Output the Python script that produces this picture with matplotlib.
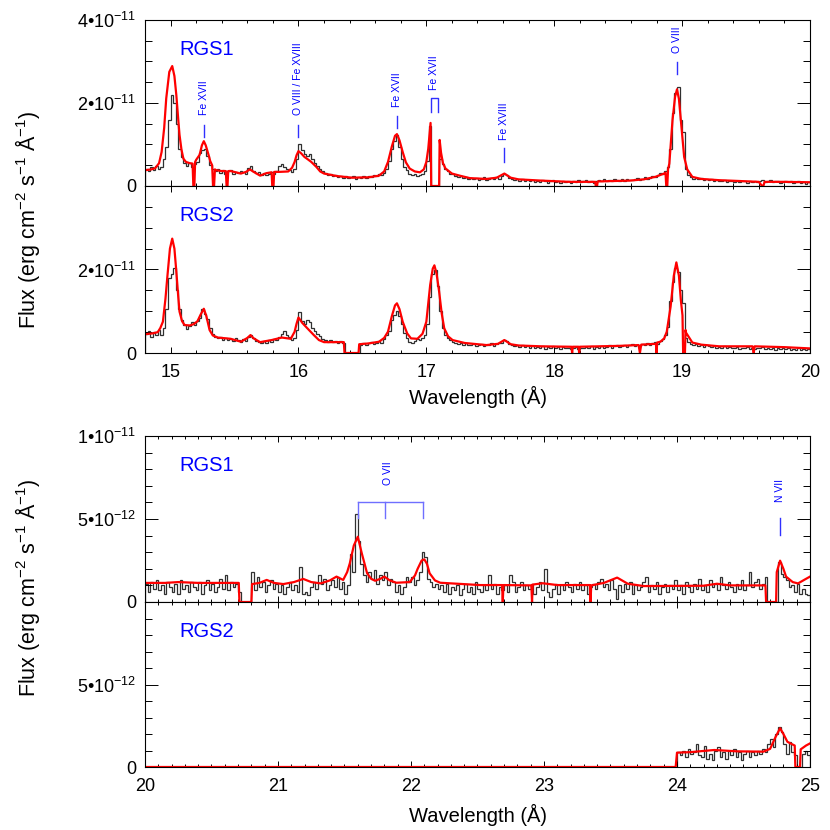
import numpy as np
import matplotlib
matplotlib.use('Agg')
import matplotlib.pyplot as plt

plt.rcParams['font.family'] = ['Liberation Sans', 'DejaVu Sans']
plt.rcParams['mathtext.fontset'] = 'custom'
plt.rcParams['mathtext.rm'] = 'Liberation Sans'
plt.rcParams['mathtext.it'] = 'Liberation Sans:italic'
plt.rcParams['mathtext.bf'] = 'Liberation Sans:bold'

UNIT = 1e-12  # all flux values below are in units of 1e-12 erg/cm2/s/A

# ---------------- Top group: 14.8 - 20.0 A, 0.02 A bins ----------------
top_start = 14.80
top_bin = 0.02
rgs1_top_data = [
    4.2, 3.6, 4.5, 3.9, 4.8, 4.1, 4.6, 6.5, 9.5, 16.0,
    22.0, 20.0, 15.0, 9.0, 7.0, 5.5, 4.8, 5.5, 4.6, 5.2,
    5.8, 7.9, 8.6, 8.9, 7.2, 5.0, 4.2, 3.6, 4.0, 3.2,
    3.8, 3.0, 3.5, 3.9, 2.9, 3.4, 3.1, 3.7, 3.3, 2.8,
    4.4, 4.9, 3.6, 3.1, 3.4, 2.7, 3.2, 2.6, 3.0, 3.3,
    2.9, 3.6, 4.8, 5.3, 4.5, 4.0, 3.8, 3.4, 4.2, 6.5,
    10.0, 8.6, 7.8, 7.2, 7.6, 6.4, 5.6, 4.8, 4.0, 3.6,
    3.1, 2.7, 2.9, 2.4, 2.6, 2.2, 2.5, 2.0, 2.3, 1.9,
    2.1, 2.4, 1.8, 2.2, 2.0, 2.5, 1.9, 2.3, 2.1, 2.6,
    2.4, 2.8, 2.6, 3.2, 4.2, 6.0, 9.0, 10.8, 12.3, 9.5,
    6.5, 4.6, 3.8, 3.0, 2.6, 2.8, 2.4, 2.7, 2.9, 3.6,
    6.0, 14.5, 0.0, 0.0, 0.0, 6.5, 5.2, 4.2, 3.6, 3.0,
    2.8, 2.5, 2.1, 2.3, 1.9, 2.2, 1.7, 2.0, 1.6, 1.9,
    1.5, 1.8, 2.1, 1.4, 1.7, 1.9, 1.6, 2.2, 1.8, 2.3,
    3.0, 2.6, 2.0, 1.7, 1.4, 1.8, 1.2, 1.6, 1.3, 1.5,
    1.1, 1.4, 0.9, 1.3, 1.0, 1.5, 1.2, 0.8, 1.1, 1.4,
    1.0, 1.2, 0.7, 1.3, 0.9, 1.1, 0.8, 1.2, 1.0, 1.4,
    0.9, 1.2, 1.5, 1.0, 1.3, 0.8, 1.1, 1.4, 1.2, 1.6,
    1.3, 1.5, 1.1, 1.7, 1.4, 1.2, 1.6, 1.3, 1.8, 1.5,
    1.4, 1.7, 1.9, 1.5, 1.8, 2.1, 1.7, 2.0, 2.4, 2.2,
    2.6, 3.1, 2.9, 3.5, 4.5, 9.0, 17.5, 22.5, 23.8, 16.0,
    13.0, 4.0, 2.6, 2.2, 1.8, 2.0, 1.6, 1.9, 1.5, 1.7,
    1.4, 1.6, 1.2, 1.5, 1.3, 1.1, 1.4, 1.0, 1.3, 1.2,
    1.0, 1.3, 0.9, 1.2, 1.1, 0.8, 1.2, 1.0, 1.3, 0.9,
    1.1, 1.4, 1.0, 1.2, 1.5, 0.9, 1.1, 1.3, 0.8, 1.0,
    1.2, 0.9, 1.1, 0.7, 1.0, 1.3, 0.8, 1.0, 0.6, 0.9,
]
rgs2_top_data = [
    4.6, 5.3, 3.9, 5.0, 4.4, 5.6, 4.2, 6.0, 10.5, 18.0,
    19.0, 20.3, 15.0, 10.5, 7.8, 6.6, 5.8, 6.4, 7.4, 6.8,
    7.6, 8.5, 10.6, 9.4, 8.2, 6.0, 4.6, 3.9, 3.5, 3.8,
    3.2, 3.6, 3.0, 3.4, 2.9, 3.7, 3.1, 2.7, 3.3, 2.8,
    3.9, 4.4, 3.5, 2.9, 2.6, 2.3, 2.8, 2.5, 3.0, 2.7,
    3.4, 3.1, 3.9, 4.6, 5.2, 4.3, 3.8, 3.2, 3.6, 5.5,
    9.8, 7.6, 7.0, 7.8, 7.4, 6.0, 5.2, 4.6, 4.0, 3.4,
    3.0, 2.7, 3.2, 2.6, 2.9, 2.4, 2.8, 2.5, 0.0, 0.0,
    0.0, 0.0, 0.0, 0.0, 2.0, 2.4, 1.9, 2.3, 2.6, 2.2,
    2.5, 2.9, 2.4, 3.3, 4.4, 5.2, 7.8, 9.2, 10.0, 8.8,
    7.0, 4.8, 3.6, 2.6, 2.4, 2.9, 3.3, 3.0, 3.6, 4.4,
    7.0, 13.5, 19.0, 19.8, 16.0, 10.0, 6.0, 4.2, 3.5, 3.0,
    2.7, 2.4, 2.1, 2.5, 1.9, 2.3, 2.0, 1.8, 2.2, 1.7,
    1.9, 2.2, 1.6, 2.0, 1.8, 2.4, 1.7, 2.1, 2.5, 2.3,
    3.2, 2.8, 2.2, 1.9, 1.6, 2.0, 1.5, 1.8, 1.4, 1.7,
    1.3, 1.6, 1.1, 1.5, 1.2, 1.7, 1.0, 1.4, 1.2, 1.6,
    1.2, 1.5, 1.0, 1.4, 1.1, 1.3, 0.9, 1.2, 1.4, 1.0,
    1.3, 1.1, 1.5, 1.2, 1.6, 1.0, 1.4, 1.3, 1.7, 1.2,
    1.5, 1.8, 1.3, 1.6, 1.9, 1.4, 1.7, 2.0, 1.5, 1.8,
    2.1, 1.7, 2.0, 1.6, 2.2, 1.9, 2.4, 2.0, 2.3, 2.6,
    2.2, 2.8, 3.3, 4.2, 6.3, 12.5, 17.0, 20.4, 19.5, 15.0,
    12.0, 3.6, 2.6, 2.2, 1.9, 2.1, 1.7, 1.9, 1.5, 1.8,
    1.6, 1.4, 1.7, 1.3, 1.5, 1.2, 1.6, 1.1, 1.4, 1.3,
    1.2, 1.5, 1.0, 1.3, 1.1, 1.4, 0.9, 1.2, 1.0, 1.3,
    1.1, 1.4, 0.9, 1.2, 1.0, 1.3, 0.8, 1.1, 1.0, 1.2,
    0.9, 1.1, 0.7, 1.0, 0.8, 1.2, 0.6, 0.9, 0.7, 1.0,
]

rgs1_top_model_wl = [
    14.80, 14.85, 14.88, 14.91, 14.93, 14.95, 14.966, 14.99, 15.013, 15.03,
    15.045, 15.06, 15.07, 15.085, 15.10, 15.12, 15.15, 15.172, 15.178, 15.186,
    15.192, 15.20, 15.227, 15.245, 15.26, 15.275, 15.297, 15.31, 15.325, 15.332,
    15.340, 15.347, 15.357, 15.40, 15.432, 15.438, 15.445, 15.451, 15.47, 15.55,
    15.59, 15.62, 15.65, 15.70, 15.75, 15.79, 15.795, 15.805, 15.81, 15.85,
    15.92, 15.95, 15.97, 15.985, 16.00, 16.02, 16.047, 16.07, 16.10, 16.14,
    16.17, 16.20, 16.30, 16.42, 16.55, 16.63, 16.67, 16.70, 16.73, 16.755,
    16.77, 16.79, 16.815, 16.84, 16.87, 16.91, 16.95, 16.98, 17.00, 17.015,
    17.033, 17.038, 17.100, 17.104, 17.115, 17.13, 17.15, 17.20, 17.26, 17.34,
    17.47, 17.55, 17.61, 17.66, 17.72, 17.90, 18.12, 18.32, 18.325, 18.335,
    18.34, 18.59, 18.70, 18.79, 18.86, 18.870, 18.876, 18.884, 18.890, 18.90,
    18.925, 18.945, 18.96, 18.975, 18.99, 19.016, 19.04, 19.08, 19.15, 19.29,
    19.45, 19.60, 19.625, 19.635, 19.645, 19.80, 20.00,
]
rgs1_top_model = [
    3.8, 4.0, 4.3, 5.5, 8.2, 14.0, 21.1, 27.5, 28.9, 26.5,
    21.9, 16.0, 12.3, 8.8, 6.6, 5.8, 5.5, 5.4, 0.0, 0.0,
    5.8, 6.3, 7.5, 9.8, 10.8, 9.8, 7.5, 6.0, 5.0, 0.0,
    0.0, 4.0, 3.8, 3.6, 3.6, 0.0, 0.0, 3.6, 3.6, 3.0,
    3.4, 4.0, 3.4, 2.5, 3.1, 3.3, 0.0, 0.0, 3.4, 3.4,
    3.5, 4.4, 5.8, 7.4, 8.4, 7.9, 7.0, 6.5, 5.8, 4.6,
    3.5, 3.0, 2.4, 2.0, 2.1, 2.5, 3.5, 5.8, 9.5, 12.1,
    12.5, 11.0, 8.2, 5.7, 4.2, 3.5, 3.3, 4.0, 5.8, 9.0,
    15.2, 0.0, 0.0, 11.1, 8.0, 5.5, 4.2, 3.0, 2.5, 1.9,
    1.7, 2.0, 3.0, 2.0, 1.6, 1.3, 1.0, 1.0, 0.0, 0.0,
    1.1, 1.3, 1.6, 2.2, 3.0, 3.2, 0.0, 0.0, 4.0, 5.4,
    15.9, 21.5, 23.3, 21.0, 15.9, 7.0, 4.0, 2.2, 1.7, 1.4,
    1.2, 1.0, 0.0, 0.0, 1.0, 1.0, 0.9,
]

rgs2_top_model_wl = [
    14.80, 14.86, 14.90, 14.92, 14.94, 14.96, 14.974, 14.995, 15.013, 15.03,
    15.045, 15.06, 15.07, 15.09, 15.11, 15.15, 15.18, 15.21, 15.235, 15.26,
    15.28, 15.305, 15.33, 15.37, 15.47, 15.55, 15.60, 15.625, 15.65, 15.70,
    15.79, 15.87, 15.94, 15.97, 15.985, 16.00, 16.03, 16.07, 16.12, 16.16,
    16.20, 16.27, 16.355, 16.360, 16.470, 16.475, 16.55, 16.63, 16.67, 16.70,
    16.73, 16.755, 16.77, 16.79, 16.815, 16.85, 16.88, 16.93, 16.97, 17.00,
    17.03, 17.05, 17.063, 17.08, 17.10, 17.12, 17.14, 17.17, 17.205, 17.30,
    17.47, 17.56, 17.61, 17.66, 17.72, 17.90, 18.12, 18.135, 18.14, 18.145,
    18.19, 18.195, 18.20, 18.50, 18.66, 18.67, 18.68, 18.795, 18.80, 18.805,
    18.83, 18.86, 18.88, 18.91, 18.935, 18.955, 18.975, 18.99, 19.003, 19.008,
    19.022, 19.027, 19.03, 19.08, 19.15, 19.29, 19.55, 19.56, 19.567, 19.80,
    20.00,
]
rgs2_top_model = [
    4.5, 4.7, 5.0, 6.0, 7.5, 13.0, 18.0, 25.0, 27.4, 25.0,
    19.5, 13.5, 9.9, 7.6, 6.7, 6.6, 6.9, 7.6, 9.2, 10.6,
    8.8, 5.5, 4.2, 3.7, 3.4, 2.7, 3.6, 4.3, 3.5, 2.6,
    3.1, 3.7, 3.4, 5.1, 7.0, 8.5, 7.2, 5.9, 4.3, 3.1,
    2.6, 2.6, 2.6, 0.0, 0.0, 2.1, 2.3, 2.7, 3.6, 5.1,
    8.8, 11.4, 11.9, 10.5, 7.5, 4.7, 3.5, 3.4, 4.6, 7.5,
    16.3, 20.2, 21.0, 19.0, 14.7, 9.5, 5.9, 4.0, 3.1, 2.4,
    1.9, 2.2, 3.1, 2.1, 1.8, 1.6, 1.5, 1.5, 0.0, 1.5,
    1.5, 0.0, 1.5, 1.7, 1.9, 0.0, 2.0, 2.2, 0.0, 2.5,
    2.7, 3.5, 5.1, 11.1, 18.5, 21.7, 18.5, 12.7, 9.0, 0.0,
    0.0, 5.5, 4.9, 2.5, 2.0, 1.6, 1.6, 0.0, 1.6, 1.4,
    1.1,
]

# ---------------- Bottom group: 20.0 - 25.0 A ----------------
low_start = 20.00
low_bin = 0.02
rgs1_low_data = [
    1.1, 0.6, 1.2, 0.8, 1.3, 0.7, 1.0, 0.5, 1.2, 0.9,
    0.6, 1.1, 0.5, 1.3, 0.8, 1.0, 0.6, 1.2, 0.9, 0.7,
    1.2, 0.5, 1.0, 1.3, 0.7, 1.1, 0.6, 0.9, 1.4, 0.8,
    1.6, 0.7, 1.2, 0.9, 1.1, 0.6, 0.0, 0.0, 0.0, 0.0,
    1.8, 0.7, 1.5, 0.9, 1.2, 0.6, 1.0, 1.3, 0.8, 1.1,
    0.6, 1.0, 0.5, 0.9, 1.2, 0.7, 1.0, 0.6, 2.1, 0.5,
    0.6, 0.4, 0.9, 1.2, 0.8, 1.6, 1.1, 1.4, 0.7, 1.0,
    1.3, 0.9, 1.5, 0.8, 1.2, 0.5, 1.0, 2.9, 1.8, 5.3,
    3.7, 2.3, 1.6, 1.2, 1.8, 1.4, 1.9, 1.1, 1.6, 1.3,
    1.8, 1.0, 1.4, 1.2, 0.6, 1.0, 0.5, 0.9, 1.5, 1.2,
    1.5, 1.0, 1.3, 1.8, 3.0, 2.7, 1.4, 1.2, 0.9, 1.1,
    0.8, 1.0, 0.6, 1.1, 0.5, 0.9, 0.7, 1.0, 0.4, 0.8,
    1.1, 0.6, 0.9, 0.5, 1.2, 0.8, 0.6, 1.0, 0.7, 1.6,
    0.8, 1.1, 0.5, 0.9, 0.7, 1.0, 0.6, 1.6, 1.2, 0.6,
    0.9, 1.2, 0.7, 1.0, 0.8, 1.1, 0.5, 0.9, 1.2, 0.7,
    2.0, 0.6, 0.3, 0.8, 1.1, 0.5, 1.0, 0.7, 1.2, 0.9,
    0.6, 1.1, 0.8, 1.2, 0.7, 1.0, 0.5, 0.9, 1.1, 0.8,
    1.2, 1.4, 0.9, 1.1, 0.7, 1.3, 0.8, 0.2, 1.0, 0.6,
    1.1, 0.8, 1.2, 0.5, 1.0, 0.7, 0.9, 1.2, 1.5, 0.6,
    1.0, 0.8, 1.2, 0.5, 0.9, 1.1, 0.6, 1.0, 0.8, 1.3,
    0.7, 1.0, 0.5, 1.2, 0.9, 0.6, 1.1, 0.8, 1.4, 0.7,
    1.0, 0.6, 1.3, 0.9, 1.1, 0.7, 1.5, 1.0, 0.8, 1.2,
    0.9, 0.6, 1.1, 0.8, 1.3, 0.7, 1.0, 1.8, 0.9, 1.2,
    1.4, 0.8, 1.1, 1.5, 0.0, 0.0, 0.0, 0.0, 2.4, 1.7,
    1.5, 1.3, 0.9, 1.0, 0.6, 1.1, 0.5, 0.8, 0.5, 0.4,
]
rgs2_low_start = 24.00
rgs2_low_data = [
    0.9, 0.7, 1.0, 0.6, 1.1, 0.8, 0.9, 1.4, 0.7, 0.6,
    1.3, 0.5, 0.8, 0.4, 1.0, 1.2, 0.6, 0.9, 0.5, 1.0,
    0.7, 1.1, 0.6, 0.9, 0.4, 0.8, 1.0, 0.6, 0.9, 0.7,
    1.0, 0.8, 1.1, 0.9, 1.4, 1.7, 1.2, 2.0, 2.45, 2.1,
    1.4, 0.8, 1.5, 0.9, 0.7, 0.0, 0.0, 0.8, 1.0, 0.7,
]

rgs1_low_model_wl = [
    20.00, 20.15, 20.25, 20.40, 20.705, 20.71, 20.80, 20.805, 20.86, 20.915,
    20.97, 21.04, 21.12, 21.19, 21.25, 21.32, 21.39, 21.44, 21.49, 21.52,
    21.54, 21.57, 21.60, 21.63, 21.67, 21.70, 21.73, 21.77, 21.80, 21.84,
    21.89, 21.99, 22.03, 22.05, 22.08, 22.10, 22.12, 22.14, 22.18, 22.22,
    22.52, 22.685, 22.69, 22.695, 22.905, 22.91, 22.915, 22.99, 23.10, 23.345,
    23.35, 23.355, 23.45, 23.55, 23.63, 23.75, 24.20, 24.30, 24.40, 24.665,
    24.67, 24.745, 24.75, 24.775, 24.80, 24.82, 24.87, 24.91, 24.96, 25.00,
]
rgs1_low_model = [
    1.15, 1.15, 1.2, 1.15, 1.15, 0.0, 0.0, 1.08, 1.15, 1.33,
    1.15, 1.08, 1.2, 1.39, 1.2, 1.12, 1.3, 1.53, 1.33, 1.8,
    2.33, 3.4, 3.93, 2.93, 1.73, 1.4, 1.28, 1.4, 1.53, 1.3,
    1.16, 1.2, 1.6, 2.0, 2.5, 2.57, 2.3, 1.73, 1.3, 1.16,
    1.02, 1.02, 0.0, 1.02, 1.0, 0.0, 1.05, 1.13, 1.02, 1.02,
    0.0, 1.0, 1.15, 1.47, 1.1, 0.96, 0.98, 1.1, 1.0, 1.0,
    0.0, 0.0, 1.8, 2.49, 2.0, 1.53, 1.2, 1.12, 1.35, 1.53,
]
rgs2_low_model_wl = [
    20.00, 23.99, 24.00, 24.10, 24.28, 24.45, 24.65, 24.70, 24.74, 24.775,
    24.80, 24.83, 24.86, 24.885, 24.89, 24.925, 24.93, 24.97, 25.00,
]
rgs2_low_model = [
    0.0, 0.0, 0.87, 0.9, 1.03, 0.95, 0.93, 1.1, 1.8, 2.35,
    2.0, 1.53, 1.4, 1.3, 0.0, 0.0, 1.07, 1.3, 1.43,
]

# tick values / labels
top_yticks = [0, 2e-11, 4e-11]
top_ylabels = ['0', '2•10$^{-11}$', '4•10$^{-11}$']
low_yticks = [0, 5e-12, 1e-11]
low_ylabels = ['0', '5•10$^{-12}$', '1•10$^{-11}$']
top_xticks = [15, 16, 17, 18, 19, 20]
low_xticks = [20, 21, 22, 23, 24, 25]

# line identifications (wavelength, tick bottom, tick top, text base) in 1e-12 units
top_line_ids = ['Fe XVII', 'O VIII / Fe XVIII', 'Fe XVII', 'Fe XVIII', 'O VIII']
top_line_wl = [15.26, 16.00, 16.77, 17.61, 18.96]
top_line_y0 = [11.9, 11.9, 13.9, 5.8, 26.9]
top_line_y1 = [14.8, 14.8, 16.8, 9.1, 29.8]
top_line_text = [17.0, 17.0, 19.0, 11.1, 32.0]

BLUE = '#0000ff'
TICKBLUE = '#3030ff'
BRACKBLUE = '#6f6fff'

fig = plt.figure(figsize=(8.3, 8.3), dpi=100)
W = 830.0
L = 145 / W
AW = (810 - 145) / W


def make_ax(top_px, bot_px):
    return fig.add_axes([L, 1 - bot_px / W, AW, (bot_px - top_px) / W])


ax1 = make_ax(20, 186)
ax2 = make_ax(186, 353)
ax3 = make_ax(436, 602)
ax4 = make_ax(602, 767)

s = lambda arr: np.asarray(arr) * UNIT

# top group
edges_top = top_start + top_bin * np.arange(len(rgs1_top_data) + 1)
for ax, dat, mwl, mod in [(ax1, rgs1_top_data, rgs1_top_model_wl, rgs1_top_model),
                          (ax2, rgs2_top_data, rgs2_top_model_wl, rgs2_top_model)]:
    ax.stairs(s(dat), edges_top, color='#303030', lw=0.9)
    ax.plot(mwl, s(mod), color='#ff0000', lw=1.6)
    ax.set_xlim(14.8, 20.0)
    ax.set_ylim(0, 4e-11)
    ax.set_xticks(top_xticks)
    ax.set_xticks(np.arange(14.8, 20.001, 0.2), minor=True)
    ax.set_yticks(np.arange(0, 4.01e-11, 0.5e-11), minor=True)

ax1.set_yticks(top_yticks, top_ylabels)
ax2.set_yticks(top_yticks, ['0', '2•10$^{-11}$', ''])
ax1.set_xticklabels([])
ax2.set_xticklabels([str(v) for v in top_xticks])

# bottom group
edges_low = low_start + low_bin * np.arange(len(rgs1_low_data) + 1)
edges_low2 = rgs2_low_start + low_bin * np.arange(len(rgs2_low_data) + 1)
ax3.stairs(s(rgs1_low_data), edges_low, color='#303030', lw=0.9)
ax3.plot(rgs1_low_model_wl, s(rgs1_low_model), color='#ff0000', lw=1.6)
ax4.stairs(s(rgs2_low_data), edges_low2, color='#303030', lw=0.9)
ax4.plot(rgs2_low_model_wl, s(rgs2_low_model), color='#ff0000', lw=1.6)
for ax in (ax3, ax4):
    ax.set_xlim(20, 25)
    ax.set_ylim(0, 1e-11)
    ax.set_xticks(low_xticks)
    ax.set_xticks(np.arange(20, 25.001, 0.1), minor=True)
    ax.set_yticks(np.arange(0, 1.001e-11, 1e-12), minor=True)
ax3.set_yticks(low_yticks, low_ylabels)
ax4.set_yticks(low_yticks, ['0', '5•10$^{-12}$', ''])
ax3.set_xticklabels([])
ax4.set_xticklabels([str(v) for v in low_xticks])

for ax in (ax1, ax2, ax3, ax4):
    for sp in ax.spines.values():
        sp.set_linewidth(0.8)
    ax.tick_params(which='both', direction='in', top=True, right=True,
                   labelsize=13, width=0.7, colors='black')
    ax.tick_params(axis='y', which='major', length=9.5, pad=6)
    ax.tick_params(axis='y', which='minor', length=5)
    ax.tick_params(axis='x', which='major', length=4.5, pad=8)
    ax.tick_params(axis='x', which='minor', length=2.3)

for ax, lab in [(ax1, 'RGS1'), (ax2, 'RGS2'), (ax3, 'RGS1'), (ax4, 'RGS2')]:
    ax.text(0.051, 0.79, lab, transform=ax.transAxes, color=BLUE,
            fontsize=14.5, ha='left', va='baseline')

# line labels top panel
for name, wl, y0, y1, yt in zip(top_line_ids, top_line_wl, top_line_y0,
                                top_line_y1, top_line_text):
    ax1.plot([wl, wl], [y0 * UNIT, y1 * UNIT], color=TICKBLUE, lw=1.0)
    ax1.text(wl, yt * UNIT, name, rotation=90, ha='center', va='bottom',
             color=BLUE, fontsize=7.5)
# Fe XVII doublet bracket
brk_wl = [17.04, 17.04, 17.09, 17.09]
brk_y = [17.9, 21.1, 21.1, 17.9]
ax1.plot(brk_wl, s(brk_y), color=TICKBLUE, lw=1.0)
ax1.text(17.058, 23.1 * UNIT, 'Fe XVII', rotation=90, ha='center',
         va='bottom', color=BLUE, fontsize=7.5)

# O VII triplet bracket
ovii_wl = [21.60, 21.805, 22.09]
ax3.plot([ovii_wl[0], ovii_wl[2]], [6.04 * UNIT, 6.04 * UNIT], color=BRACKBLUE, lw=1.0)
for w in ovii_wl:
    ax3.plot([w, w], [5.06 * UNIT, 6.04 * UNIT], color=BRACKBLUE, lw=1.0)
ax3.text(21.825, 7.05 * UNIT, 'O VII', rotation=90, ha='center', va='bottom',
         color=BLUE, fontsize=7.5)
# N VII
ax3.plot([24.775, 24.775], [4.04 * UNIT, 5.06 * UNIT], color=TICKBLUE, lw=1.0)
ax3.text(24.775, 6.02 * UNIT, 'N VII', rotation=90, ha='center', va='bottom',
         color=BLUE, fontsize=7.5)

ylab = 'Flux (erg cm$^{-2}$ s$^{-1}$ Å$^{-1}$)'
fig.text(28 / W, 1 - 220 / W, ylab, rotation=90, ha='center', va='center', fontsize=15.5)
fig.text(28 / W, 1 - 588 / W, ylab, rotation=90, ha='center', va='center', fontsize=15.5)
fig.text((145 + 810) / 2 / W, 1 - 397 / W, 'Wavelength (Å)', ha='center', va='center', fontsize=14.5)
fig.text((145 + 810) / 2 / W, 1 - 815 / W, 'Wavelength (Å)', ha='center', va='center', fontsize=14.5)

fig.savefig('out.png', dpi=100, facecolor='white')
